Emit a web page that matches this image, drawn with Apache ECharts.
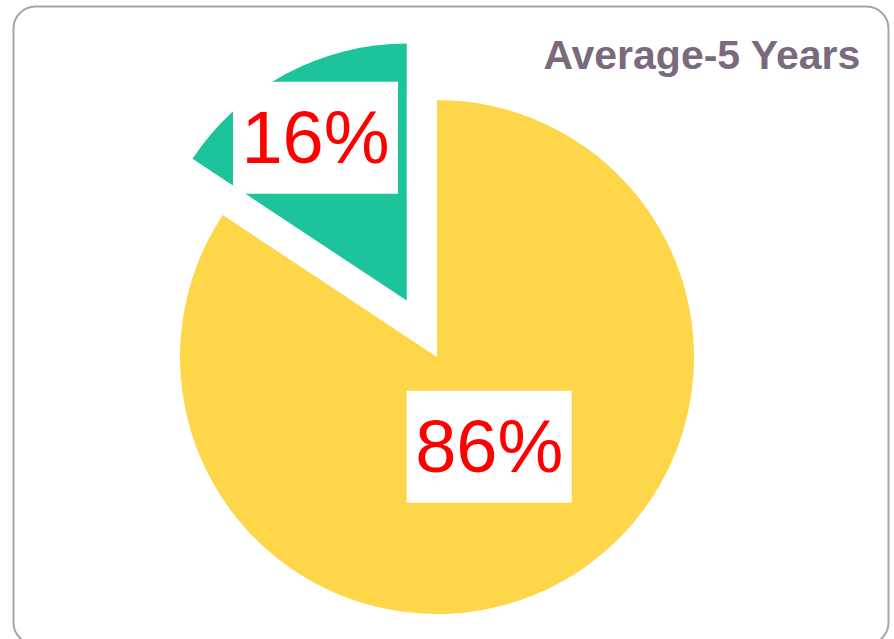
<!DOCTYPE html>
<html>
<head>
<meta charset="utf-8">
<script src="https://cdn.jsdelivr.net/npm/echarts@6/dist/echarts.min.js"></script>
<style>
  html, body { margin: 0; padding: 0; background: #fff; }
  #chart { width: 894px; height: 639px; }
</style>
</head>
<body>
<div id="chart"></div>
<script>
// Average-5 Years - pie with exploded slice
var sliceNames = ['Other', 'Average'];
var sliceValues = [86, 16];
var sliceColors = ['#FED64A', '#1DC49B'];
var explodedSlice = 1;
var chartTitle = 'Average-5 Years';

(function() {
  var fontStack = "'Liberation Sans', 'Noto Sans', sans-serif";
  var labelShift = [{ dx: -10, dy: -26 }, { dx: -29, dy: -47 }];

  var chart = echarts.init(document.getElementById('chart'), null, { renderer: 'svg' });
  chart.setOption({
    animation: false,
    backgroundColor: '#fff',
    title: {
      text: chartTitle,
      right: 28,
      top: 29,
      textStyle: { color: '#7A6A7E', fontSize: 41, fontWeight: 'bold', fontFamily: fontStack }
    },
    graphic: [{
      type: 'rect',
      left: 11,
      top: 4,
      shape: { width: 875, height: 638, r: 22 },
      style: { fill: 'none', stroke: '#A6A6A6', lineWidth: 2 },
      silent: true
    }],
    series: [{
      type: 'pie',
      center: [437, 357],
      radius: 257,
      startAngle: 90,
      clockwise: true,
      selectedMode: 'single',
      selectedOffset: 64,
      emphasis: { disabled: true },
      labelLine: { show: false },
      label: {
        show: true,
        position: 'inside',
        formatter: '{c}%',
        color: '#FF0000',
        fontSize: 74,
        fontFamily: fontStack,
        backgroundColor: '#fff',
        width: 145,
        height: 92,
        lineHeight: 92,
        overflow: 'none',
        align: 'center',
        verticalAlign: 'middle',
        padding: [10, 10]
      },
      labelLayout: function(p) { return labelShift[p.dataIndex]; },
      data: sliceValues.map(function(v, i) {
        return {
          name: sliceNames[i],
          value: v,
          selected: i === explodedSlice,
          itemStyle: { color: sliceColors[i] },
          select: { itemStyle: { color: sliceColors[i] } }
        };
      })
    }]
  });
})();
</script>
</body>
</html>
